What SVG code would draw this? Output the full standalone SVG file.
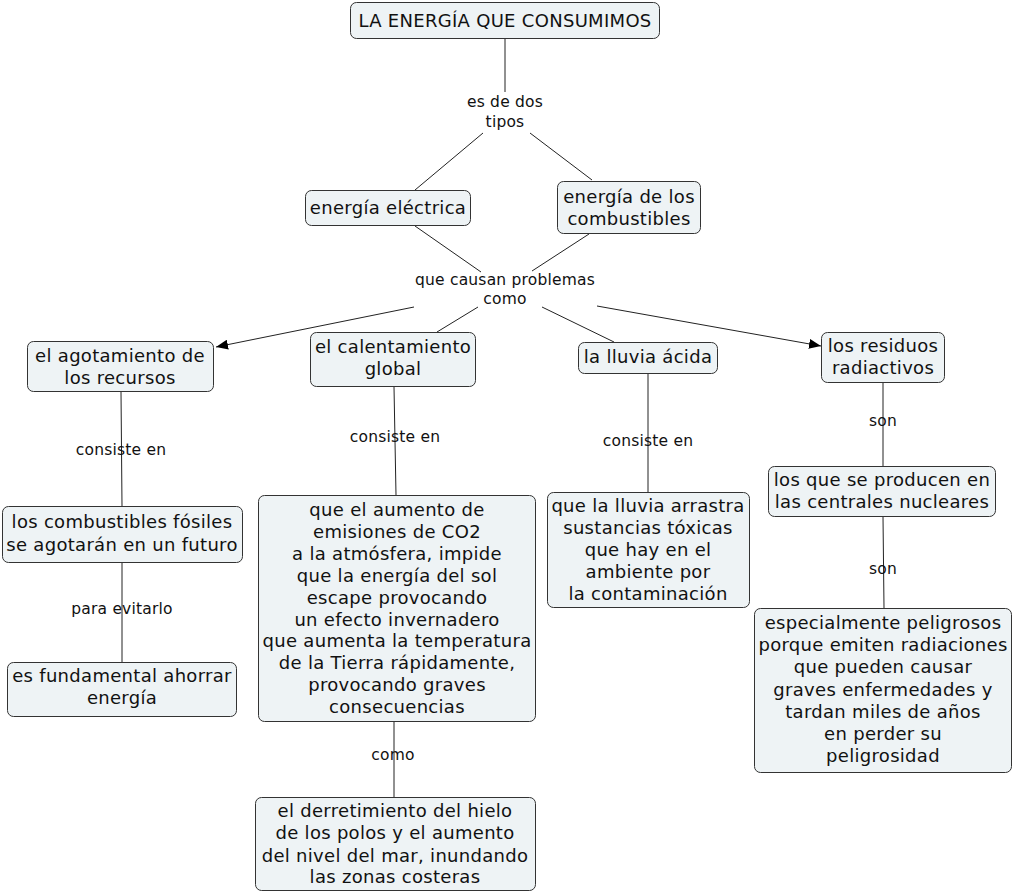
<svg xmlns="http://www.w3.org/2000/svg" width="1013" height="893" viewBox="0 0 1013 893">
<defs>
<style>
.n rect{fill:#eef3f5;stroke:#333;stroke-width:1;}
.n text{font-family:"DejaVu Sans","Verdana",sans-serif;font-size:18px;letter-spacing:0.3px;fill:#111;text-anchor:middle;}
.l text{font-family:"DejaVu Sans","Verdana",sans-serif;font-size:15.5px;letter-spacing:0.2px;fill:#111;text-anchor:middle;}
#connectors line{stroke:#222;stroke-width:1;fill:none;}
</style>
<marker id="arr" markerWidth="12" markerHeight="10" refX="12" refY="5" orient="auto" markerUnits="userSpaceOnUse">
<path d="M0,0 L12,5 L0,10 Z" fill="#000"/>
</marker>
</defs>
<rect width="1013" height="893" fill="#fff"/>
<g id="connectors">
<line x1="505" y1="38" x2="505" y2="92"/>
<line x1="483" y1="133" x2="415" y2="190"/>
<line x1="530" y1="133" x2="592" y2="180"/>
<line x1="415" y1="226" x2="481" y2="272"/>
<line x1="589" y1="234" x2="532" y2="271"/>
<line x1="414" y1="307" x2="216" y2="347" marker-end="url(#arr)"/>
<line x1="478" y1="307" x2="437" y2="332"/>
<line x1="542" y1="307" x2="614" y2="342"/>
<line x1="597" y1="306" x2="821" y2="346" marker-end="url(#arr)"/>
<line x1="121" y1="392" x2="122" y2="506"/>
<line x1="122" y1="562" x2="122" y2="662"/>
<line x1="394" y1="387" x2="396" y2="495"/>
<line x1="394" y1="722" x2="394" y2="797"/>
<line x1="648" y1="373" x2="648" y2="492"/>
<line x1="883" y1="382" x2="883" y2="466"/>
<line x1="883" y1="517" x2="884" y2="608"/>
</g>
<g id="labels" class="l">
<g id="lbl-tipos"><text x="505" y="107">es de dos</text><text x="505" y="127">tipos</text></g>
<g id="lbl-causan"><text x="505" y="285">que causan problemas</text><text x="505" y="304">como</text></g>
<g id="lbl-consiste1"><text x="121" y="455">consiste en</text></g>
<g id="lbl-evitarlo"><text x="122" y="614">para evitarlo</text></g>
<g id="lbl-consiste2"><text x="395" y="442">consiste en</text></g>
<g id="lbl-como"><text x="393" y="760">como</text></g>
<g id="lbl-consiste3"><text x="648" y="446">consiste en</text></g>
<g id="lbl-son1"><text x="883" y="426">son</text></g>
<g id="lbl-son2"><text x="883" y="574">son</text></g>
</g>
<g id="n-main" class="n"><rect x="350.5" y="2.5" width="309" height="36" rx="6"/><text x="505" y="27">LA ENERGÍA QUE CONSUMIMOS</text></g>
<g id="n-electrica" class="n"><rect x="305.5" y="190.5" width="165" height="35" rx="6"/><text x="388" y="214">energía eléctrica</text></g>
<g id="n-combustibles" class="n"><rect x="557.5" y="181.5" width="143" height="52" rx="6"/><text x="629" y="203">energía de los</text><text x="629" y="225">combustibles</text></g>
<g id="n-agotamiento" class="n"><rect x="27.5" y="341.5" width="186" height="50" rx="6"/><text x="120" y="362">el agotamiento de</text><text x="120" y="384">los recursos</text></g>
<g id="n-calentamiento" class="n"><rect x="310.5" y="332.5" width="165" height="54" rx="6"/><text x="393" y="353">el calentamiento</text><text x="393" y="375">global</text></g>
<g id="n-lluvia" class="n"><rect x="578.5" y="342.5" width="139" height="31" rx="6"/><text x="648" y="363">la lluvia ácida</text></g>
<g id="n-residuos" class="n"><rect x="821.5" y="332.5" width="123" height="50" rx="6"/><text x="883" y="352">los residuos</text><text x="883" y="374">radiactivos</text></g>
<g id="n-fosiles" class="n"><rect x="2.5" y="506.5" width="240" height="56" rx="6"/><text x="122" y="528">los combustibles fósiles</text><text x="122" y="551">se agotarán en un futuro</text></g>
<g id="n-ahorrar" class="n"><rect x="7.5" y="662.5" width="229" height="54" rx="6"/><text x="122" y="682">es fundamental ahorrar</text><text x="122" y="704">energía</text></g>
<g id="n-co2" class="n"><rect x="258.5" y="495.5" width="277" height="226" rx="6"/>
<text x="397" y="516">que el aumento de</text>
<text x="397" y="538">emisiones de CO2</text>
<text x="397" y="560">a la atmósfera, impide</text>
<text x="397" y="582">que la energía del sol</text>
<text x="397" y="604">escape provocando</text>
<text x="397" y="626">un efecto invernadero</text>
<text x="397" y="647">que aumenta la temperatura</text>
<text x="397" y="669">de la Tierra rápidamente,</text>
<text x="397" y="691">provocando graves</text>
<text x="397" y="713">consecuencias</text>
</g>
<g id="n-hielo" class="n"><rect x="255.5" y="797.5" width="280" height="93" rx="6"/>
<text x="395" y="817">el derretimiento del hielo</text>
<text x="395" y="839">de los polos y el aumento</text>
<text x="395" y="862">del nivel del mar, inundando</text>
<text x="395" y="883">las zonas costeras</text>
</g>
<g id="n-toxicas" class="n"><rect x="547.5" y="492.5" width="202" height="115" rx="6"/>
<text x="648" y="512">que la lluvia arrastra</text>
<text x="648" y="534">sustancias tóxicas</text>
<text x="648" y="556">que hay en el</text>
<text x="648" y="578">ambiente por</text>
<text x="648" y="600">la contaminación</text>
</g>
<g id="n-centrales" class="n"><rect x="768.5" y="466.5" width="227" height="50" rx="6"/><text x="882" y="486">los que se producen en</text><text x="882" y="508">las centrales nucleares</text></g>
<g id="n-peligrosos" class="n"><rect x="754.5" y="608.5" width="257" height="164" rx="6"/>
<text x="883" y="629">especialmente peligrosos</text>
<text x="883" y="651">porque emiten radiaciones</text>
<text x="883" y="673">que pueden causar</text>
<text x="883" y="696">graves enfermedades y</text>
<text x="883" y="718">tardan miles de años</text>
<text x="883" y="740">en perder su</text>
<text x="883" y="762">peligrosidad</text>
</g>
</svg>
